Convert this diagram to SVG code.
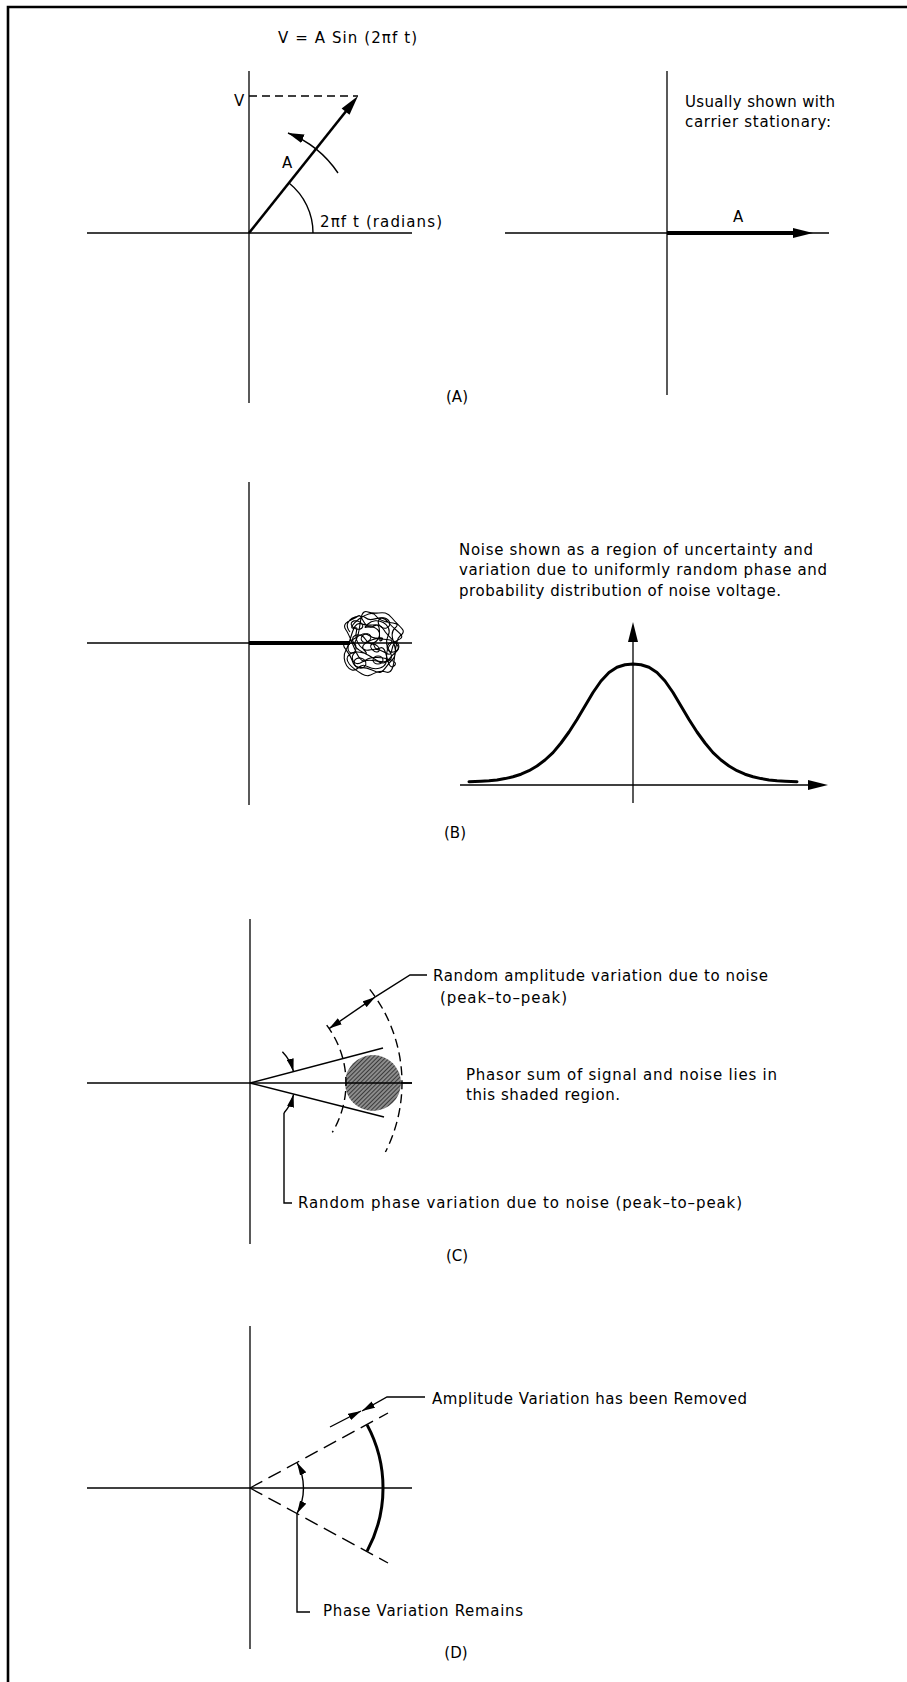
<svg xmlns="http://www.w3.org/2000/svg" width="907" height="1682" viewBox="0 0 907 1682">
<style>
.t{font-family:"DejaVu Sans","Liberation Sans",sans-serif;font-size:15px;fill:#000}
.lbl{font-family:"DejaVu Sans","Liberation Sans",sans-serif;font-size:15px;fill:#000}
.ax{stroke:#000;stroke-width:1.3;fill:none}
.ln{stroke:#000;stroke-width:1.4;fill:none}
.dash{stroke:#000;stroke-width:1.4;fill:none;stroke-dasharray:9 5}
.thick{stroke:#000;stroke-width:4;fill:none}
.scr{stroke:#000;stroke-width:1.1;fill:none}
</style>
<defs>
<marker id="as" viewBox="-13 -4 14 8" refX="0" refY="0" markerWidth="14" markerHeight="8" markerUnits="userSpaceOnUse" orient="auto-start-reverse"><path d="M0,0 L-13,-3.5 L-13,3.5 z" fill="#000"/></marker>
<marker id="am" viewBox="-16 -5 17 10" refX="0" refY="0" markerWidth="17" markerHeight="10" markerUnits="userSpaceOnUse" orient="auto-start-reverse"><path d="M0,0 L-16,-4.5 L-16,4.5 z" fill="#000"/></marker>
<pattern id="hatch" patternUnits="userSpaceOnUse" width="3" height="3" patternTransform="rotate(45)"><rect width="3" height="3" fill="#8c8c8c"/><line x1="0.5" y1="0" x2="0.5" y2="3" stroke="#3a3a3a" stroke-width="1"/></pattern>
</defs>
<rect width="907" height="1682" fill="#fff"/>
<g id="frame"><path d="M8,1682 V7 H907" stroke="#000" stroke-width="2.6" fill="none"/></g>

<g id="sectionA-left">
<line class="ax" x1="87" y1="233" x2="412" y2="233"/>
<line class="ax" x1="249" y1="71" x2="249" y2="403"/>
<line class="dash" x1="249" y1="96" x2="358" y2="96" style="stroke-dasharray:8 5"/>
<line x1="249" y1="233" x2="347" y2="110" stroke="#000" stroke-width="2.6"/>
<path d="M358,96 L349.5,114.8 L341.6,108.5 z" fill="#000"/>
<path class="ln" d="M313,233 A64,64 0 0 0 289,183"/>
<text class="t" x="278" y="43" textLength="139" lengthAdjust="spacing">V = A Sin (2πf t)</text>
<text class="t" x="234" y="106">V</text>
<text class="t" x="282" y="168">A</text>
<text class="t" x="320" y="227" textLength="122" lengthAdjust="spacing">2πf t (radians)</text>
</g>

<g id="sectionA-right">
<line class="ax" x1="505" y1="233" x2="829" y2="233"/>
<line class="ax" x1="667" y1="71" x2="667" y2="395"/>
<line class="thick" x1="667" y1="233" x2="800" y2="233"/>
<path d="M813,233 L793,228 L793,238 z" fill="#000"/>
<text class="t" x="733" y="222">A</text>
<text class="t" x="685" y="107" textLength="150" lengthAdjust="spacing">Usually shown with</text>
<text class="t" x="685" y="127" textLength="146" lengthAdjust="spacing">carrier stationary:</text>
</g>
<text id="labelA" class="lbl" x="457" y="402" text-anchor="middle">(A)</text>

<g id="sectionB-phasor">
<line class="ax" x1="87" y1="643" x2="412" y2="643"/>
<line class="ax" x1="249" y1="482" x2="249" y2="805"/>
<line class="thick" x1="249" y1="643" x2="350" y2="643"/>
<g id="noise" class="scr">
<path d="M350,632 C340,620 360,612 366,618 C372,624 380,612 388,622 C396,632 408,636 398,640 C388,644 396,660 384,652 C372,644 368,656 360,646 C350,634 362,626 354,628 C344,630 370,606 376,616 C382,626 404,620 395,628 C386,636 402,650 392,660 C382,670 384,676 372,670 C360,664 356,672 352,660 C348,648 338,646 348,642 C358,638 362,630 370,636 C378,642 398,636 390,645 C382,654 392,664 380,668 C368,672 366,660 358,668 C350,676 340,660 346,650 C352,640 352,620 362,624 C372,628 378,620 384,630 C390,640 404,646 396,652 C388,658 386,668 376,660 C366,652 350,650 356,640 C362,630 358,608 368,612 C378,616 384,608 392,618 C400,628 408,630 400,636 C392,642 398,676 386,672 C374,668 372,680 362,674 C352,668 342,660 350,654 C358,648 372,658 364,650 C356,642 388,634 382,640 C376,646 384,620 374,626 C364,632 362,612 358,616 C354,620 340,622 346,630 C352,638 358,666 366,660 C374,654 402,660 394,666 C386,672 388,644 380,648 C372,652 376,640 370,644"/>
<path d="M356,646 C346,636 360,630 366,640 C372,650 384,636 378,630 C370,622 360,632 368,624 C376,616 394,624 388,636 C382,648 396,654 390,660 C384,666 370,656 362,662 C354,668 348,656 356,652"/>
<ellipse cx="357" cy="625" rx="6" ry="4" transform="rotate(20 357 625)"/>
<ellipse cx="384" cy="623" rx="6" ry="5" transform="rotate(30 384 623)"/>
<ellipse cx="393" cy="647" rx="6" ry="5" transform="rotate(-20 393 647)"/>
<ellipse cx="360" cy="663" rx="6" ry="5" transform="rotate(15 360 663)"/>
<ellipse cx="378" cy="660" rx="5" ry="4"/>
<ellipse cx="366" cy="638" rx="5" ry="4" transform="rotate(-30 366 638)"/>
<ellipse cx="352" cy="648" rx="4" ry="5"/>
<ellipse cx="375" cy="648" rx="5" ry="3" transform="rotate(40 375 648)"/>
</g>
</g>

<g id="sectionB-distribution">
<line class="ax" x1="460" y1="785" x2="815" y2="785"/>
<path d="M828,785 L808,780 L808,790 z" fill="#000"/>
<line class="ax" x1="633" y1="803" x2="633" y2="638"/>
<path d="M633,622 L628,642 L638,642 z" fill="#000"/>
<polyline fill="none" stroke="#000" stroke-width="3" stroke-linejoin="round" stroke-linecap="round" points="469,781.7 481,781.2 489,780.7 497,779.9 505,778.6 513,776.8 521,774.2 529,770.7 537,766 545,760 553,752.6 561,743 569,732 577,719.5 585,706 593,692.5 601,681 609,672.5 617,667.2 625,664.7 633,664 641,664.7 649,667.2 657,672.5 665,681 673,692.5 681,706 689,719.5 697,732 705,743 713,752.6 721,760 729,766 737,770.7 745,774.2 753,776.8 761,778.6 769,779.9 777,780.7 785,781.2 797,781.7"/>
<text class="t" x="459" y="555" textLength="354" lengthAdjust="spacing">Noise shown as a region of uncertainty and</text>
<text class="t" x="459" y="575" textLength="368" lengthAdjust="spacing">variation due to uniformly random phase and</text>
<text class="t" x="459" y="596" textLength="322" lengthAdjust="spacing">probability distribution of noise voltage.</text>
</g>
<text id="labelB" class="lbl" x="455" y="838" text-anchor="middle">(B)</text>

<g id="sectionC">
<line class="ax" x1="87" y1="1083" x2="412" y2="1083"/>
<line class="ax" x1="250" y1="919" x2="250" y2="1244"/>
<circle cx="373" cy="1083" r="28" fill="url(#hatch)"/>
<line class="ax" x1="345" y1="1083" x2="412" y2="1083"/>
<line class="ln" x1="250" y1="1083" x2="383" y2="1048"/>
<line class="ln" x1="250" y1="1083" x2="384" y2="1117"/>
<path class="dash" d="M326.7,1025.2 A96,96 0 0 1 332.3,1132.4"/>
<path class="dash" d="M369.8,989.4 A152,152 0 0 1 385.4,1152"/>
<text class="t" x="433" y="981" textLength="335" lengthAdjust="spacing">Random amplitude variation due to noise</text>
<text class="t" x="440" y="1003" textLength="127" lengthAdjust="spacing">(peak–to–peak)</text>
<text class="t" x="466" y="1080" textLength="311" lengthAdjust="spacing">Phasor sum of signal and noise lies in</text>
<text class="t" x="466" y="1100" textLength="154" lengthAdjust="spacing">this shaded region.</text>
<text class="t" x="298" y="1208" textLength="444" lengthAdjust="spacing">Random phase variation due to noise (peak–to–peak)</text>
</g>
<text id="labelC" class="lbl" x="457" y="1261" text-anchor="middle">(C)</text>

<g id="sectionD">
<line class="ax" x1="87" y1="1488" x2="412" y2="1488"/>
<line class="ax" x1="250" y1="1326" x2="250" y2="1649"/>
<line class="dash" x1="250" y1="1488" x2="388" y2="1413" style="stroke-dasharray:14 7"/>
<line class="dash" x1="250" y1="1488" x2="388" y2="1563" style="stroke-dasharray:14 7"/>
<path d="M367.1,1424.9 A133,133 0 0 1 367.1,1551.1" fill="none" stroke="#000" stroke-width="3"/>
<text class="t" x="432" y="1404" textLength="315" lengthAdjust="spacing">Amplitude Variation has been Removed</text>
<text class="t" x="323" y="1616" textLength="200" lengthAdjust="spacing">Phase Variation Remains</text>
</g>
<text id="labelD" class="lbl" x="456" y="1658" text-anchor="middle">(D)</text>

<g id="connectors">
<path class="ln" d="M338,173 A107,107 0 0 0 288,133" marker-end="url(#am)"/>
<path class="ln" d="M329.1,1028.6 L375.3,996.9" marker-start="url(#as)" marker-end="url(#as)"/>
<path class="ln" d="M375.3,996.9 L410,975 H427"/>
<path class="ln" d="M282.4,1051.7 A45,45 0 0 1 293.5,1071.6" marker-end="url(#as)"/>
<path class="ln" d="M284,1113 A45,45 0 0 0 293.6,1094.3" marker-end="url(#as)"/>
<path class="ln" d="M284,1113 V1203 H292"/>
<path class="ln" d="M330,1427 L361,1411" marker-end="url(#as)"/>
<path class="ln" d="M425,1397 H387 L362,1411" marker-end="url(#as)"/>
<path class="ln" d="M297,1462.5 A53.5,53.5 0 0 1 297,1513.5" marker-start="url(#as)" marker-end="url(#as)"/>
<path class="ln" d="M297,1513.5 V1612 H310"/>
</g>
</svg>
